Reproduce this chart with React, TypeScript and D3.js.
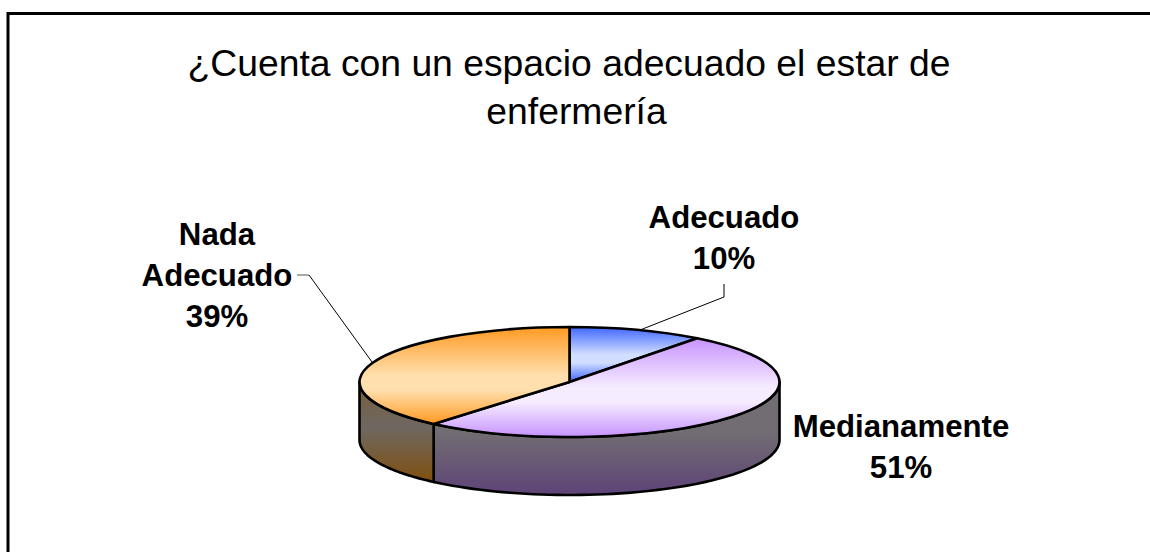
import React from "react";
import * as d3 from "d3";

const categories = ["Adecuado", "Medianamente", "Nada Adecuado"];
const values = [10.4, 50.8, 38.8];
const topStops = [
  ["#3f66ff", "#d2deff"],
  ["#c693ff", "#f6ecff"],
  ["#ff9a22", "#ffdfae"],
];
const sideStops = [
  ["#555", "#555"],
  ["#716d72", "#5e4378"],
  ["#7a5c3c", "#80500f"],
];
const titleLines = ["¿Cuenta con un espacio adecuado el estar de", "enfermería"];

const W = 1150, H = 552;
const cx = 569.5, cy = 382, rx = 210, ry = 55, depth = 58;
const ff = "'Liberation Sans', Arial, sans-serif";

export default function App() {
  const pie = d3.pie<number>().sort(null)(values);
  const arc = d3.arc<any>().innerRadius(0).outerRadius(rx);
  const pt = (a: number, dy = 0): [number, number] => [cx + rx * Math.sin(a), cy - ry * Math.cos(a) + dy];
  const sides = pie.map((p) => {
    const a0 = Math.max(p.startAngle, Math.PI / 2);
    const a1 = Math.min(p.endAngle, (3 * Math.PI) / 2);
    if (a1 <= a0) return null;
    const as = d3.range(0, 61).map((i) => a0 + ((a1 - a0) * i) / 60);
    const pts = [...as.map((a) => pt(a)), ...as.slice().reverse().map((a) => pt(a, depth))];
    return d3.line()(pts) + "Z";
  });
  return (
    <svg width={W} height={H} style={{ position: "absolute", left: 0, top: 0, background: "#fff" }}>
      <defs>
        {topStops.map((s, i) => (
          <linearGradient key={i} id={`top${i}`} x1="0" y1="0" x2="0" y2="1">
            <stop offset="0" stopColor={s[0]} />
            <stop offset="0.5" stopColor={s[1]} />
            <stop offset="0.65" stopColor={s[1]} />
            <stop offset="1" stopColor={s[0]} />
          </linearGradient>
        ))}
        {sideStops.map((s, i) => (
          <linearGradient key={i} id={`side${i}`} x1="0" y1="0" x2="0" y2="1">
            <stop offset="0" stopColor={s[0]} />
            <stop offset="0.45" stopColor={i === 2 ? "#6e6862" : s[0]} />
            <stop offset="1" stopColor={s[1]} />
          </linearGradient>
        ))}
      </defs>
      <rect x={8} y={13.5} width={W + 20} height={H + 20} fill="#fff" stroke="#000" strokeWidth={3} />
      <text x={569} y={76} textAnchor="middle" fontFamily={ff} fontSize={37.3} fill="#000">{titleLines[0]}</text>
      <text x={576.5} y={123.5} textAnchor="middle" fontFamily={ff} fontSize={37.3} fill="#000">{titleLines[1]}</text>
      {sides.map((d, i) => d && (
        <path key={i} d={d} fill={`url(#side${i})`} stroke="#000" strokeWidth={2.6} strokeLinejoin="round" />
      ))}
      <g transform={`translate(${cx},${cy}) scale(1,${ry / rx})`}>
        {pie.map((p, i) => (
          <path key={i} d={arc(p) as string} fill={`url(#top${i})`} stroke="#000" strokeWidth={2.6} vectorEffect="non-scaling-stroke" strokeLinejoin="round" />
        ))}
      </g>
      <polyline points="640,330 724,297 724,284" fill="none" stroke="#000" strokeWidth={1} />
      <polyline points="372,362 309,275" fill="none" stroke="#000" strokeWidth={1} />
      <polyline points="309,275 297,275" fill="none" stroke="#555" strokeWidth={1} />
      <g fontFamily={ff} fontSize={31.2} fontWeight="bold" textAnchor="middle" fill="#000">
        <text x={724} y={228}>{categories[0]}</text>
        <text x={724} y={269}>{Math.round(values[0])}%</text>
        <text x={901} y={437}>{categories[1]}</text>
        <text x={901} y={478}>{Math.round(values[1])}%</text>
        <text x={217} y={245}>Nada</text>
        <text x={217} y={286}>Adecuado</text>
        <text x={217} y={327}>{Math.round(values[2])}%</text>
      </g>
    </svg>
  );
}
